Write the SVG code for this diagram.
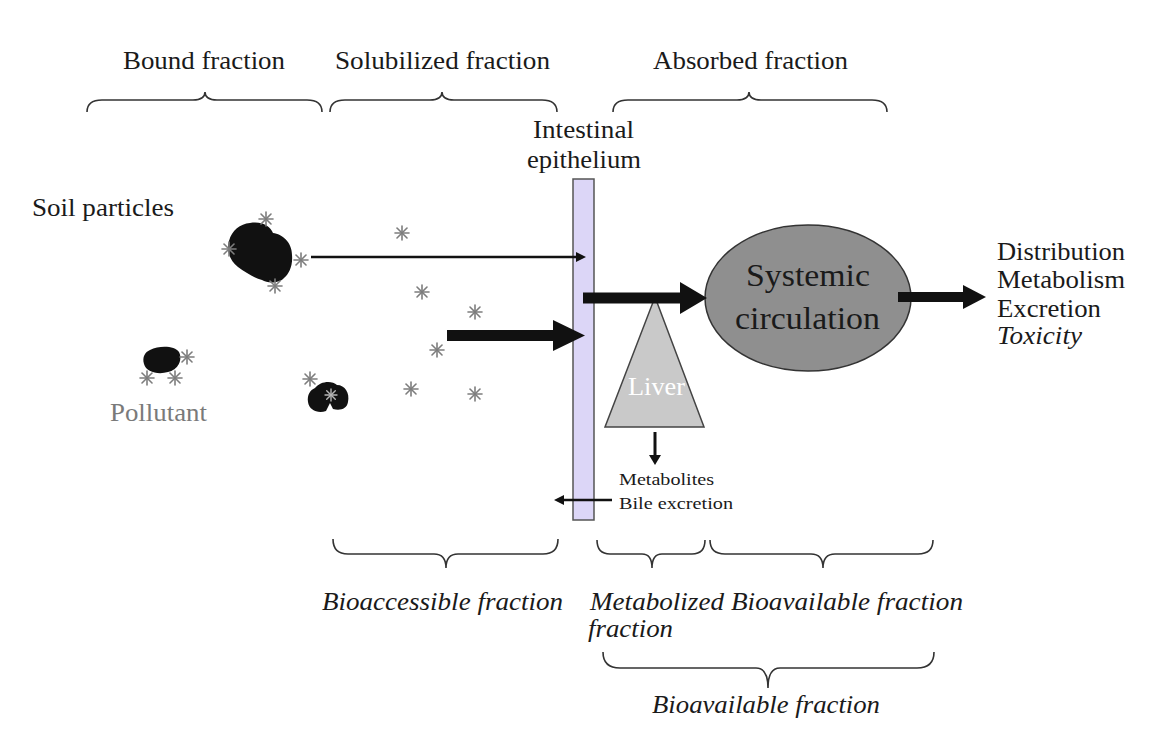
<svg xmlns="http://www.w3.org/2000/svg" xmlns:xlink="http://www.w3.org/1999/xlink" width="1168" height="731" viewBox="0 0 1168 731" font-family="Liberation Serif, Tinos, Times New Roman, Times, serif">
<style>
text{font-family:'Liberation Serif',Tinos,'Times New Roman',Times,serif;fill:#1a1a1a}
.lbl{font-size:25px}
.it{font-style:italic}
.brace{fill:none;stroke:#333;stroke-width:1.6}
.blob{fill:#111}
.ast line{stroke:#7d7d7d;stroke-width:1.6;stroke-linecap:round}
.astl line{stroke:#b5b5b5;stroke-width:1.4;stroke-linecap:round}
.thin{stroke:#111;stroke-width:2.5;fill:none}
.ah{fill:#111}
</style>
<defs>
<g id="ast" class="ast">
<line x1="-7" y1="0" x2="7" y2="0"/>
<line x1="0" y1="-7" x2="0" y2="7"/>
<line x1="-5" y1="-5" x2="5" y2="5"/>
<line x1="-5" y1="5" x2="5" y2="-5"/>
</g>
<g id="astl" class="astl">
<line x1="-6" y1="0" x2="6" y2="0"/>
<line x1="0" y1="-6" x2="0" y2="6"/>
<line x1="-4.3" y1="-4.3" x2="4.3" y2="4.3"/>
<line x1="-4.3" y1="4.3" x2="4.3" y2="-4.3"/>
</g>
</defs>
<rect width="1168" height="731" fill="#fff"/>

<g id="braces">
<path class="brace" d="M87,112 Q87,100 102,100 L193,100 Q205,100 205,92 Q205,100 217,100 L307,100 Q322,100 322,112"/>
<path class="brace" d="M330,112 Q330,100 345,100 L430,100 Q442,100 442,92 Q442,100 454,100 L542,100 Q557,100 557,112"/>
<path class="brace" d="M613,112 Q613,100 628,100 L737,100 Q749,100 749,92 Q749,100 761,100 L872,100 Q887,100 887,112"/>
<path class="brace" d="M333,539 Q333,554 348,554 L434,554 Q446,554 446,568 Q446,554 458,554 L543,554 Q558,554 558,539"/>
<path class="brace" d="M597,540 Q597,554 610,554 L642,554 Q652,554 652,568 Q652,554 662,554 L692,554 Q705,554 705,540"/>
<path class="brace" d="M710,540 Q710,554 725,554 L811,554 Q823,554 823,568 Q823,554 835,554 L918,554 Q933,554 933,540"/>
<path class="brace" d="M603,652 Q603,668 620,668 L756,668 Q768,668 768,688 Q768,668 780,668 L917,668 Q934,668 934,652"/>
</g>

<g id="labels">
<text class="lbl" x="123" y="69" textLength="162" lengthAdjust="spacingAndGlyphs">Bound fraction</text>
<text class="lbl" x="335" y="69" textLength="215" lengthAdjust="spacingAndGlyphs">Solubilized fraction</text>
<text class="lbl" x="653" y="69" textLength="195" lengthAdjust="spacingAndGlyphs">Absorbed fraction</text>
<text class="lbl" x="32" y="216" textLength="142" lengthAdjust="spacingAndGlyphs">Soil particles</text>
<text class="lbl" x="110" y="421" textLength="97" lengthAdjust="spacingAndGlyphs" style="fill:#7a7a7a">Pollutant</text>
<text class="lbl it" x="322" y="610" textLength="241" lengthAdjust="spacingAndGlyphs">Bioaccessible fraction</text>
<text class="lbl it" x="590" y="610" textLength="134" lengthAdjust="spacingAndGlyphs">Metabolized</text>
<text class="lbl it" x="588" y="637" textLength="85" lengthAdjust="spacingAndGlyphs">fraction</text>
<text class="lbl it" x="731" y="610" textLength="232" lengthAdjust="spacingAndGlyphs">Bioavailable fraction</text>
<text class="lbl it" x="652" y="713" textLength="228" lengthAdjust="spacingAndGlyphs">Bioavailable fraction</text>
</g>

<g id="soil">
<path class="blob" d="M250,223 C262,221 270,226 273,233 C282,234 292,242 292,255 C293,266 289,274 284,278 C280,283 268,284 262,280 C254,278 245,272 238,267 C230,261 226,250 229,241 C232,230 240,224 250,223 Z"/>
<path class="blob" d="M150,350 C160,345 175,346 179,352 C183,360 178,370 168,372 C158,375 146,372 144,364 C142,357 145,352 150,350 Z"/>
<path class="blob" d="M315,388 C320,381 332,380 337,385 C345,385 350,393 348,402 C347,409 340,411 333,409 L330,403 L326,411 C318,414 309,410 308,402 C307,395 310,390 315,388 Z"/>
</g>

<g id="pollutant">
<use xlink:href="#ast" x="266" y="219"/>
<use xlink:href="#ast" x="229" y="249"/>
<use xlink:href="#ast" x="301" y="260"/>
<use xlink:href="#ast" x="275" y="286"/>
<use xlink:href="#ast" x="187" y="357"/>
<use xlink:href="#ast" x="147" y="378"/>
<use xlink:href="#ast" x="175" y="378"/>
<use xlink:href="#ast" x="310" y="379"/>
<use xlink:href="#astl" x="331" y="395"/>
<use xlink:href="#ast" x="402" y="233"/>
<use xlink:href="#ast" x="422" y="292"/>
<use xlink:href="#ast" x="475" y="312"/>
<use xlink:href="#ast" x="437" y="350"/>
<use xlink:href="#ast" x="411" y="389"/>
<use xlink:href="#ast" x="475" y="394"/>
</g>

<g id="epithelium">
<rect x="573" y="179" width="21" height="341" fill="#dcd6f7" stroke="#555" stroke-width="1.5"/>
<text class="lbl" x="533" y="138" textLength="101" lengthAdjust="spacingAndGlyphs">Intestinal</text>
<text class="lbl" x="527" y="168" textLength="114" lengthAdjust="spacingAndGlyphs">epithelium</text>
</g>

<g id="liver">
<polygon points="655,297 704,427 605,427" fill="#c9c9c9" stroke="#444" stroke-width="1.5"/>
<text class="lbl" x="628" y="395" textLength="57" lengthAdjust="spacingAndGlyphs" style="fill:#fff">Liver</text>
</g>

<g id="systemic">
<ellipse cx="808" cy="298" rx="103" ry="73" fill="#8f8f8f" stroke="#333" stroke-width="1.5"/>
<text x="746" y="286" font-size="31" textLength="124" lengthAdjust="spacingAndGlyphs">Systemic</text>
<text x="735" y="329" font-size="31" textLength="145" lengthAdjust="spacingAndGlyphs">circulation</text>
</g>

<g id="effects">
<text class="lbl" x="997" y="260" textLength="128" lengthAdjust="spacingAndGlyphs">Distribution</text>
<text class="lbl" x="997" y="288" textLength="128" lengthAdjust="spacingAndGlyphs">Metabolism</text>
<text class="lbl" x="997" y="317" textLength="104" lengthAdjust="spacingAndGlyphs">Excretion</text>
<text class="lbl it" x="997" y="344" textLength="85" lengthAdjust="spacingAndGlyphs">Toxicity</text>
</g>

<g id="metabolites">
<text x="619" y="485" font-size="16" textLength="95" lengthAdjust="spacingAndGlyphs">Metabolites</text>
<text x="619" y="509" font-size="16" textLength="114" lengthAdjust="spacingAndGlyphs">Bile excretion</text>
</g>

<g id="connectors">
<line class="thin" x1="311" y1="257" x2="577" y2="257"/>
<polygon class="ah" points="576,252 586,257 576,262"/>
<rect class="ah" x="447" y="330" width="108" height="11"/>
<polygon class="ah" points="553,320 585,335.5 553,351"/>
<rect class="ah" x="583" y="292.5" width="99" height="11"/>
<polygon class="ah" points="680,282 707,298 680,314"/>
<rect class="ah" x="898" y="292" width="67" height="10"/>
<polygon class="ah" points="963,285 986,297 963,309"/>
<line class="thin" x1="655" y1="432" x2="655" y2="456" style="stroke-width:3"/>
<polygon class="ah" points="649,455 655,465 661,455"/>
<line class="thin" x1="612" y1="500" x2="563" y2="500"/>
<polygon class="ah" points="564,495 554,500 564,505"/>
</g>
</svg>
